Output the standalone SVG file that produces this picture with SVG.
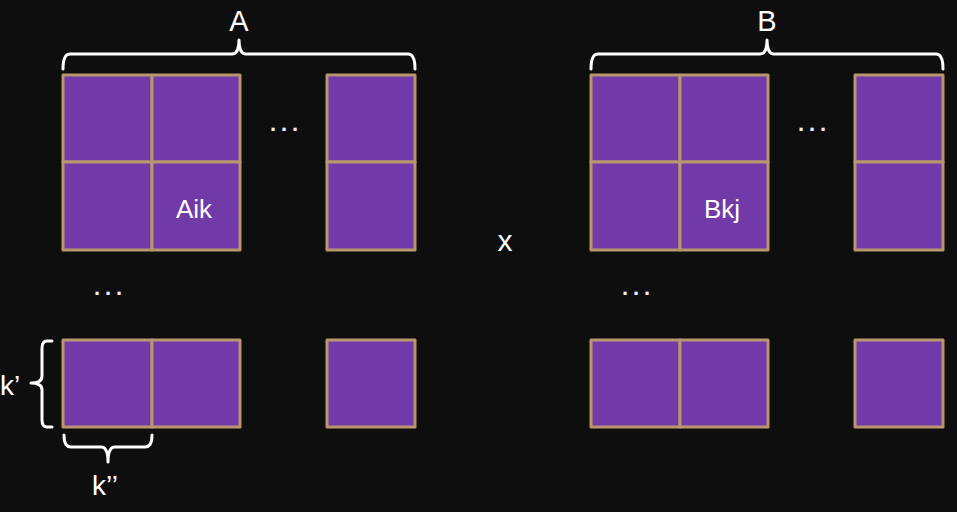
<svg xmlns="http://www.w3.org/2000/svg" width="957" height="512" viewBox="0 0 957 512">
<style>
.cell{fill:#7239A8;stroke:#B8976E;stroke-width:3;stroke-linejoin:round}
.brace{fill:none;stroke:#FFFFFF;stroke-width:3;stroke-linecap:round;stroke-linejoin:round}
.t{font-family:"Liberation Sans",Arial,sans-serif;fill:#FFFFFF}
.dots{font-family:"Liberation Sans",Arial,sans-serif;fill:#EAF2FF;font-size:22px;font-weight:bold}
</style>
<rect width="957" height="512" fill="#0E0E0E"/>
<g id="matrixA">
  <rect class="cell" x="63" y="75" width="89" height="87"/>
  <rect class="cell" x="152" y="75" width="88" height="87"/>
  <rect class="cell" x="63" y="162" width="89" height="88"/>
  <rect class="cell" x="152" y="162" width="88" height="88"/>
  <rect class="cell" x="327" y="75" width="88" height="87"/>
  <rect class="cell" x="327" y="162" width="88" height="88"/>
  <rect class="cell" x="63" y="340" width="89" height="87"/>
  <rect class="cell" x="152" y="340" width="88" height="87"/>
  <rect class="cell" x="327" y="340" width="88" height="87"/>
  <text class="t" x="176" y="218" font-size="26">Aik</text>
  <text class="dots" x="270 281 292" y="131">...</text>
  <text class="dots" x="94 105 116" y="295">...</text>
</g>
<g id="matrixB">
  <rect class="cell" x="591" y="75" width="89" height="87"/>
  <rect class="cell" x="680" y="75" width="88" height="87"/>
  <rect class="cell" x="591" y="162" width="89" height="88"/>
  <rect class="cell" x="680" y="162" width="88" height="88"/>
  <rect class="cell" x="855" y="75" width="88" height="87"/>
  <rect class="cell" x="855" y="162" width="88" height="88"/>
  <rect class="cell" x="591" y="340" width="89" height="87"/>
  <rect class="cell" x="680" y="340" width="88" height="87"/>
  <rect class="cell" x="855" y="340" width="88" height="87"/>
  <text class="t" x="704" y="218" font-size="26">Bkj</text>
  <text class="dots" x="798 809 820" y="131">...</text>
  <text class="dots" x="622 633 644" y="295">...</text>
</g>
<g id="braces">
  <path class="brace" d="M63,69 Q63,54 70,54 L232,54 Q239,54 239,40 Q239,54 246,54 L408,54 Q415,54 415,69"/>
  <path class="brace" d="M591,69 Q591,54 598,54 L760,54 Q767,54 767,40 Q767,54 774,54 L936,54 Q943,54 943,69"/>
  <path class="brace" d="M52,341 L47,341 Q42,341 42,348 L42,376 Q42,383 31,383 Q42,383 42,390 L42,420 Q42,427 47,427 L52,427"/>
  <path class="brace" d="M64,435 Q64,447 71,447 L101,447 Q108,447 108,462 Q108,447 115,447 L145,447 Q152,447 152,435"/>
</g>
<g id="labels">
  <text class="t" x="239" y="31" font-size="29" text-anchor="middle">A</text>
  <text class="t" x="767" y="31" font-size="29" text-anchor="middle">B</text>
  <text class="t" x="505" y="251" font-size="30" text-anchor="middle">x</text>
  <text class="t" x="0" y="395" font-size="28">k’</text>
  <text class="t" x="92" y="495" font-size="28">k’’</text>
</g>
</svg>
